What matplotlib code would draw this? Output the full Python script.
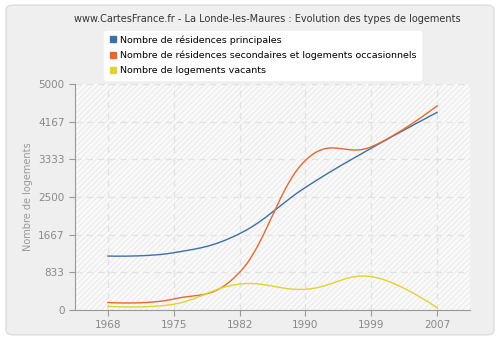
import numpy as np
import matplotlib
matplotlib.use("Agg")
import matplotlib.pyplot as plt
from matplotlib.patches import FancyBboxPatch, Rectangle

# Données
years = [1968, 1975, 1982, 1990, 1999, 2007]
principales = [1195, 1268, 1690, 2712, 3580, 4373]
secondaires = [168, 245, 834, 3310, 3610, 4515]
vacants = [82, 130, 575, 460, 740, 52]
yticks = [0, 833, 1667, 2500, 3333, 4167, 5000]

labels = ["Nombre de résidences principales",
          "Nombre de résidences secondaires et logements occasionnels",
          "Nombre de logements vacants"]
colors = ["#3d6fa8", "#e8672f", "#e0d431"]


def spline(y, n=60, smooth=1.5):
    # courbe de Bézier lissée entre les points (axe des x en catégories)
    y = np.asarray(y, float)
    k = len(y)
    x = np.arange(k, dtype=float)
    lx, ly, rx, ry = x.copy(), y.copy(), x.copy(), y.copy()
    for i in range(1, k - 1):
        lx[i] = (smooth * x[i] + x[i - 1]) / (smooth + 1)
        ly[i] = (smooth * y[i] + y[i - 1]) / (smooth + 1)
        rx[i] = (smooth * x[i] + x[i + 1]) / (smooth + 1)
        ry[i] = (smooth * y[i] + y[i + 1]) / (smooth + 1)
        corr = (ry[i] - ly[i]) * (rx[i] - x[i]) / (rx[i] - lx[i]) + y[i] - ry[i]
        ly[i] += corr
        ry[i] += corr
    t = np.linspace(0, 1, n)[:, None]
    w = np.hstack([(1 - t) ** 3, 3 * (1 - t) ** 2 * t, 3 * (1 - t) * t ** 2, t ** 3])
    xs, ys = [], []
    for i in range(1, k):
        xs.append(w @ np.array([x[i - 1], rx[i - 1], lx[i], x[i]]))
        ys.append(w @ np.array([y[i - 1], ry[i - 1], ly[i], y[i]]))
    return np.concatenate(xs), np.concatenate(ys)


fig = plt.figure(figsize=(5, 3.4), dpi=100, facecolor="white")
fig.patches.append(FancyBboxPatch((0.012, 0.015), 0.976, 0.97, boxstyle="round,pad=0,rounding_size=0.015",
                                  transform=fig.transFigure, facecolor="#efefef", edgecolor="#dddddd",
                                  linewidth=1, zorder=-5))

ax = fig.add_axes([0.15, 0.088, 0.79, 0.665])
ax.set_facecolor("#fafafa")
ax.add_patch(Rectangle((0, 0), 1, 1, transform=ax.transAxes, facecolor="none",
                       edgecolor="#ededed", hatch="//////", linewidth=0, zorder=0))

for s, c in zip([principales, secondaires, vacants], colors):
    xs, ys = spline(s)
    ax.plot(xs, ys, color=c, linewidth=1, zorder=3)

ax.set_xlim(-0.5, len(years) - 0.5)
ax.set_ylim(0, 5000)
ax.set_xticks(range(len(years)))
ax.set_xticklabels([str(a) for a in years])
ax.set_yticks(yticks)
ax.grid(color="#e2e2e2", linestyle=(0, (5, 4)), linewidth=0.9)
ax.set_axisbelow(True)
for sp in ["top", "right"]:
    ax.spines[sp].set_visible(False)
for sp in ["left", "bottom"]:
    ax.spines[sp].set_color("#999999")
ax.tick_params(colors="#999999", labelcolor="#888888", labelsize=7.5, length=4, width=0.8)
ax.set_ylabel("Nombre de logements", color="#999999", fontsize=7)

fig.text(0.534, 0.945, "www.CartesFrance.fr - La Londe-les-Maures : Evolution des types de logements",
         ha="center", va="center", fontsize=7, color="#333333")

handles = [plt.Line2D([], [], marker="s", linestyle="", color=c, markersize=4) for c in colors]
leg = fig.legend(handles, labels, loc="upper left", bbox_to_anchor=(0.198, 0.923), fontsize=6.8,
                 frameon=True, fancybox=True, handletextpad=0.3, labelspacing=0.65,
                 borderpad=0.45, handlelength=1.0)
leg.get_frame().set_facecolor("white")
leg.get_frame().set_edgecolor("white")
leg.get_frame().set_alpha(1)

fig.savefig("out.png", dpi=100, facecolor="white")
